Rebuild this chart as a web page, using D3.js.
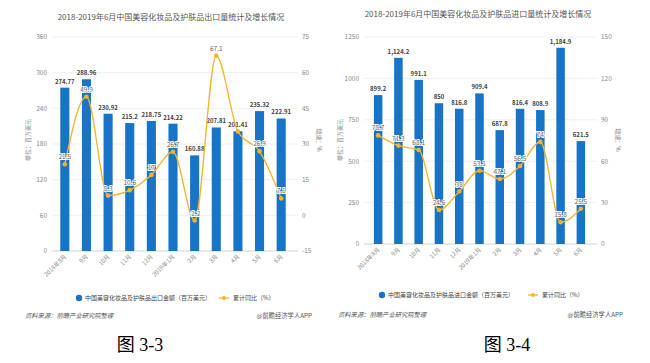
<!DOCTYPE html>
<html>
<head>
<meta charset="utf-8">
<script src="https://cdn.jsdelivr.net/npm/d3@7"></script>
<style>
  body { margin: 0; background: #fff; }
  svg { display: block; font-family: "Noto Sans CJK SC", "Noto Sans", sans-serif; }
</style>
</head>
<body>
<svg></svg>
<script>
// 共用类目
const months = ["2018年8月", "9月", "10月", "11月", "12月", "2019年1月", "2月", "3月", "4月", "5月", "6月"];

// 出口
const exportValues = [274.77, 288.96, 230.92, 215.2, 218.75, 214.22, 160.88, 207.81, 201.41, 235.32, 222.91];
const exportGrowth = [21.5, 49.9, 8.3, 10.6, 17, 26.7, -2.2, 67.1, 35.3, 26.9, 7.1];
const exportLeftTicks = [0, 60, 120, 180, 240, 300, 360];
const exportRightTicks = [-15, 0, 15, 30, 45, 60, 75];

// 进口
const importValues = [899.2, 1124.2, 991.1, 850, 816.8, 909.4, 687.8, 816.4, 808.9, 1184.9, 621.5];
const importGrowth = [78.7, 71.3, 68.1, 24.6, 38, 53.1, 47.1, 56.5, 74, 15.8, 25.5];
const importLeftTicks = [0, 250, 500, 750, 1000, 1250];
const importRightTicks = [0, 30, 60, 90, 120, 150];

const barColor = "#1874c7";
const lineColor = "#f2b52a";
const fmt = d3.format(",");

const svg = d3.select("svg").attr("width", 650).attr("height", 363);

function drawChart(o) {
  const g = svg.append("g");
  const x = d3.scaleBand().domain(months).range([o.x0, o.x1]).paddingInner(0.58).paddingOuter(0.29);
  const yL = d3.scaleLinear().domain(d3.extent(o.leftTicks)).range([o.bottom, o.top]);
  const yR = d3.scaleLinear().domain(d3.extent(o.rightTicks)).range([o.bottom, o.top]);
  const cx = i => x(months[i]) + x.bandwidth() / 2;

  // 标题
  g.append("text").attr("x", o.titleX).attr("y", o.titleY).attr("text-anchor", "middle")
    .attr("font-size", 8).attr("fill", "#555").text(o.title);

  // 网格
  g.selectAll(".grid").data(o.leftTicks).enter().append("line")
    .attr("x1", o.gx0).attr("x2", o.gx1)
    .attr("y1", d => yL(d)).attr("y2", d => yL(d))
    .attr("stroke", (d, i) => i === 0 ? "#c8c8c8" : "#ececec").attr("stroke-width", 0.8);

  g.selectAll(".lt").data(o.leftTicks).enter().append("text")
    .attr("x", o.gx0 - 5).attr("y", d => yL(d) + 2.3).attr("text-anchor", "end")
    .attr("font-size", 6.5).attr("fill", "#888").text(d => d);
  g.selectAll(".rt").data(o.rightTicks).enter().append("text")
    .attr("x", o.gx1 + 4).attr("y", d => yR(d) + 2.3)
    .attr("font-size", 6.5).attr("fill", "#888").text(d => d);

  // 轴标题
  g.append("text").attr("transform", `translate(${o.gx0 - 22},${o.axisTitleY}) rotate(-90)`)
    .attr("text-anchor", "middle").attr("font-size", 6).attr("fill", "#888").text("单位：百万美元");
  g.append("text").attr("transform", `translate(${o.gx1 + 19},${o.axisTitleY}) rotate(90)`)
    .attr("text-anchor", "middle").attr("font-size", 6).attr("fill", "#888").text("增速：%");

  // x 轴刻度
  g.selectAll(".xt").data(months).enter().append("text")
    .attr("transform", (d, i) => `translate(${cx(i) + 2},${o.bottom + 6}) rotate(-45)`)
    .attr("text-anchor", "end").attr("font-size", 6).attr("fill", "#888").text(d => d);

  // 柱
  g.selectAll(".bar").data(o.values).enter().append("rect")
    .attr("x", (d, i) => x(months[i])).attr("width", x.bandwidth())
    .attr("y", d => yL(d)).attr("height", d => o.bottom - yL(d))
    .attr("fill", barColor);
  g.selectAll(".bl").data(o.values).enter().append("text")
    .attr("x", (d, i) => cx(i)).attr("y", d => yL(d) - 4)
    .attr("text-anchor", "middle").attr("font-size", 6).attr("font-weight", "bold")
    .attr("fill", "#444").text(d => o.comma ? fmt(d) : d);

  // 折线
  const line = d3.line().x((d, i) => cx(i)).y(d => yR(d)).curve(d3.curveMonotoneX);
  g.append("path").datum(o.growth).attr("d", line).attr("fill", "none")
    .attr("stroke", lineColor).attr("stroke-width", 1.3);
  g.selectAll(".pt").data(o.growth).enter().append("circle")
    .attr("cx", (d, i) => cx(i)).attr("cy", d => yR(d))
    .attr("r", 2.3).attr("fill", lineColor);
  // 重叠的标签隐藏（与柱标签相撞）
  const shown = o.growth.map((d, i) => ({ d, i })).filter(p => !o.hide.includes(p.i));
  g.selectAll(".pl").data(shown).enter().append("text")
    .attr("x", p => cx(p.i)).attr("y", p => yR(p.d) - 5)
    .attr("text-anchor", "middle").attr("font-size", 6.5)
    .attr("fill", "#666").attr("stroke", "#fff").attr("stroke-width", 1.8)
    .attr("paint-order", "stroke").text(p => p.d);

  // 图例
  g.append("circle").attr("cx", o.legX).attr("cy", o.legY).attr("r", 3.2).attr("fill", barColor);
  g.append("text").attr("x", o.legX + 6).attr("y", o.legY + 2.2).attr("font-size", 6)
    .attr("fill", "#444").text(o.legend);
  g.append("line").attr("x1", o.legX2 - 5).attr("x2", o.legX2 + 5).attr("y1", o.legY).attr("y2", o.legY)
    .attr("stroke", lineColor).attr("stroke-width", 1.3);
  g.append("circle").attr("cx", o.legX2).attr("cy", o.legY).attr("r", 2).attr("fill", lineColor);
  g.append("text").attr("x", o.legX2 + 9).attr("y", o.legY + 2.2).attr("font-size", 6)
    .attr("fill", "#444").text("累计同比（%）");

  // 来源
  g.append("text").attr("x", o.srcX).attr("y", o.srcY).attr("font-size", 6.3)
    .attr("font-style", "italic").attr("fill", "#555").text("资料来源：前瞻产业研究院整理");
  g.append("text").attr("x", o.srcX2).attr("y", o.srcY).attr("text-anchor", "end").attr("font-size", 6.3)
    .attr("fill", "#555").text("@前瞻经济学人APP");

  // 图号
  g.append("text").attr("x", o.capX).attr("y", 351).attr("text-anchor", "middle")
    .attr("font-size", 18).attr("fill", "#000")
    .attr("font-family", "'Liberation Serif', 'Noto Sans CJK SC', serif").text(o.caption);
}

drawChart({
  title: "2018-2019年6月中国美容化妆品及护肤品出口量统计及增长情况",
  titleX: 171, titleY: 20,
  values: exportValues, growth: exportGrowth, comma: false, hide: [8],
  leftTicks: exportLeftTicks, rightTicks: exportRightTicks,
  x0: 54, x1: 292, gx0: 52, gx1: 298, top: 37, bottom: 251, axisTitleY: 140,
  legend: "中国美容化妆品及护肤品出口金额（百万美元）",
  legX: 79, legX2: 224, legY: 298,
  srcX: 25, srcX2: 312, srcY: 318,
  caption: "图 3-3", capX: 140
});

drawChart({
  title: "2018-2019年6月中国美容化妆品及护肤品进口量统计及增长情况",
  titleX: 478, titleY: 17,
  values: importValues, growth: importGrowth, comma: true, hide: [],
  leftTicks: importLeftTicks, rightTicks: importRightTicks,
  x0: 368, x1: 591, gx0: 364, gx1: 597, top: 37, bottom: 244, axisTitleY: 140,
  legend: "中国美容化妆品及护肤品进口金额（百万美元）",
  legX: 382, legX2: 533, legY: 295,
  srcX: 338, srcX2: 623, srcY: 317,
  caption: "图 3-4", capX: 507
});
</script>
</body>
</html>
